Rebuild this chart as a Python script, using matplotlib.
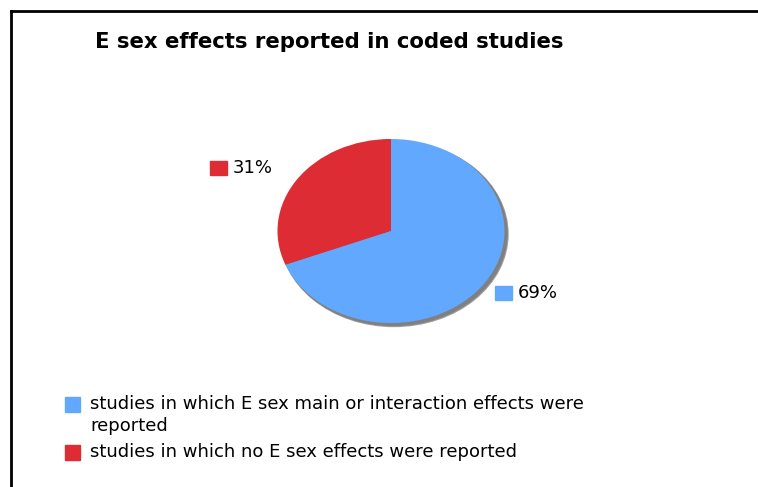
import matplotlib.pyplot as plt
from matplotlib.patches import Ellipse, Rectangle
from matplotlib.lines import Line2D

title = 'E sex effects reported in coded studies'
shares = [31, 69]
slice_colors = ['#DD2C34', '#62A8FF']
legend_labels = ['studies in which E sex main or interaction effects were\nreported',
                 'studies in which no E sex effects were reported']

W, H = 758, 487
fig = plt.figure(figsize=(W / 100, H / 100), dpi=100)

# full-figure pixel axes for frame, title, labels, shadow
bg = fig.add_axes([0, 0, 1, 1])
bg.set_xlim(0, W)
bg.set_ylim(H, 0)
bg.axis('off')
bg.add_line(Line2D([11, W], [11, 11], color='black', lw=2))
bg.add_line(Line2D([11, 11], [11, H], color='black', lw=2))

bg.text(95, 42, title, fontsize=15.3, fontweight='bold', va='center', ha='left')

# pie box in pixels
cx, cy, rx, ry = 391, 231, 113.5, 92
bg.add_patch(Ellipse((cx + 3, cy + 3), 2 * rx + 1, 2 * ry + 1, color='#a0a0a0', zorder=1))
bg.add_patch(Ellipse((cx + 2.5, cy + 2.5), 2 * rx, 2 * ry, color='#808080', zorder=1))

pax = fig.add_axes([(cx - rx) / W, (H - cy - ry) / H, 2 * rx / W, 2 * ry / H])
pax.pie(shares, colors=slice_colors, startangle=90, counterclock=True,
        wedgeprops=dict(linewidth=0))
pax.set_aspect('auto')
pax.set_xlim(-1, 1)
pax.set_ylim(-1, 1)
pax.axis('off')

# percentage labels with color keys
label_pos = [(210, 168), (495, 293)]
for (x, y), v, c in zip(label_pos, shares, slice_colors):
    bg.add_patch(Rectangle((x, y - 7), 17, 14, color=c))
    bg.text(x + 23, y, f'{v}%', fontsize=13, va='center', ha='left')

# legend below
legend_pos = [(65, 405), (65, 453)]
for (x, y), lab, c in zip(legend_pos, legend_labels, [slice_colors[1], slice_colors[0]]):
    bg.add_patch(Rectangle((x, y - 8), 15, 15, color=c))
    bg.text(x + 25, y - 10, lab, fontsize=13, va='top', ha='left', linespacing=1.3)

fig.savefig('out.png', dpi=100)
